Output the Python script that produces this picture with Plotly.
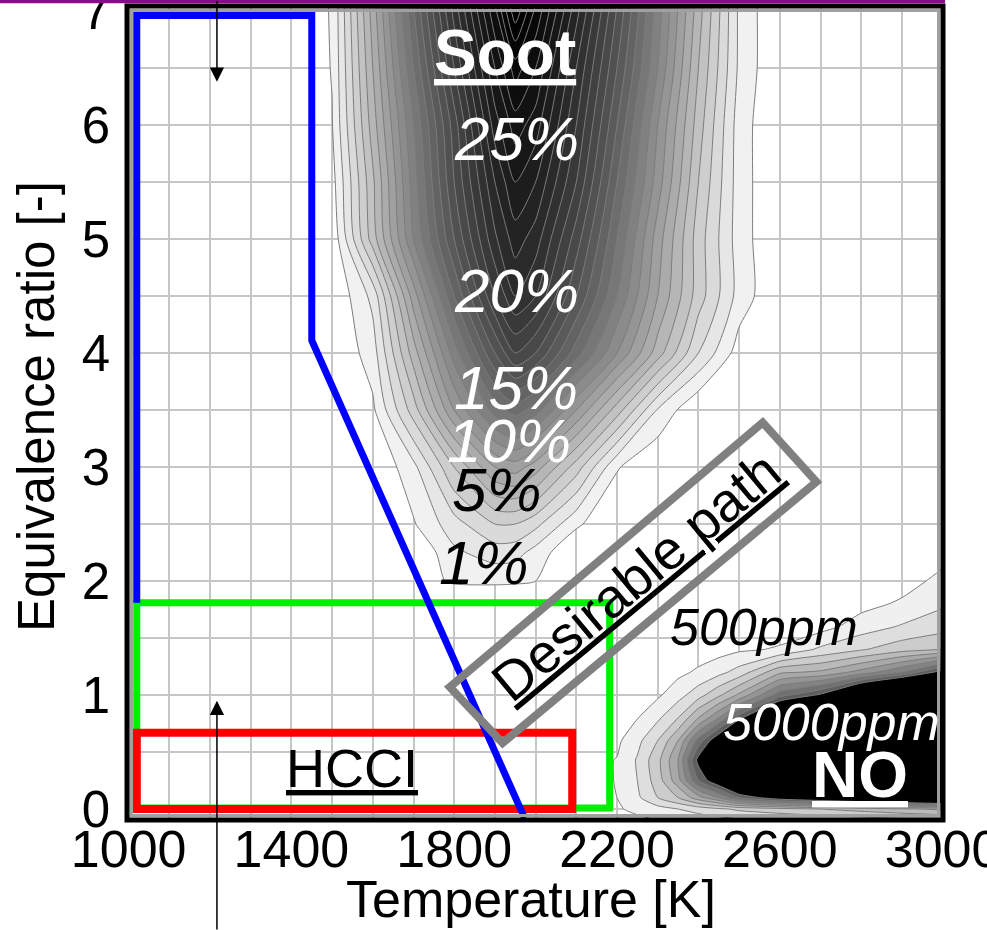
import plotly.graph_objects as go

# ---------------- data ----------------
# Soot yield [%] on a (phi, T) grid
soot_T = [1400, 1500, 1600, 1700, 1800, 1900, 1950, 2000, 2100, 2200, 2300, 2400, 2500, 2600]
soot_phi = [1.8, 2.0, 2.25, 2.5, 3.0, 3.5, 4.0, 4.5, 5.0, 5.5, 6.0, 6.5, 7.05]
soot_pct = [
    [0, 0, 0, 0, 0, 0, 0, 0, 0, 0, 0, 0, 0, 0],
    [0, 0, 0, 0.5, 1.15, 1.2, 1.15, 1.0, 0, 0, 0, 0, 0, 0],
    [0, 0, 0, 0, 1.8, 2.5, 2.4, 1.6, 0, 0, 0, 0, 0, 0],
    [0, 0, 0, 0.9, 2.6, 4.0, 4.0, 3.3, 1.2, 0, 0, 0, 0, 0],
    [0, 0, 0, 1.7, 5.0, 8.0, 8.5, 7.5, 4.5, 1.1, 0, 0, 0, 0],
    [0, 0, 0.8, 4.5, 9.0, 12.5, 13.5, 12.5, 9.0, 5.5, 1.9, 0, 0, 0],
    [0, 0, 1.5, 6.5, 11.5, 16.0, 18.0, 17.0, 13.5, 10.0, 6.5, 3.0, 0.5, 0],
    [0, 0, 2.3, 8.5, 14.0, 19.0, 21.0, 20.0, 16.0, 12.0, 8.0, 4.5, 1.6, 0],
    [0, 0.2, 5.5, 11.0, 16.0, 20.8, 22.5, 21.5, 17.5, 13.0, 8.5, 4.5, 1.5, 0],
    [0, 0.6, 5.8, 11.5, 17.0, 22.0, 24.0, 23.0, 19.0, 14.0, 9.5, 5.0, 1.5, 0],
    [0, 0.95, 6.5, 12.0, 17.5, 23.5, 25.5, 24.5, 20.0, 15.0, 10.0, 5.5, 1.5, 0],
    [0, 1.05, 7.0, 13.0, 19.0, 25.0, 27.5, 26.0, 21.0, 16.0, 11.0, 6.0, 1.8, 0],
    [0, 1.1, 7.5, 14.0, 20.5, 27.0, 31.0, 28.0, 22.5, 17.0, 11.5, 6.5, 1.8, 0],
]

# NO [ppm] on a (phi, T) grid
no_T = [2100, 2200, 2250, 2300, 2350, 2400, 2450, 2500, 2600, 2700, 2800, 2900, 3000]
no_phi = [-0.1, 0.0, 0.1, 0.25, 0.43, 0.6, 0.8, 1.0, 1.2, 1.4, 1.6, 1.8, 2.0, 2.2, 2.4]
no_cols = {
    2100: [150, 200, 250, 280, 280, 220, 150, 100, 60, 40, 30, 30, 30, 30, 30],
    2200: [300, 450, 500, 520, 520, 400, 250, 100, 50, 40, 30, 30, 30, 30, 30],
    2250: [400, 600, 900, 1000, 1050, 850, 480, 250, 100, 50, 30, 30, 30, 30, 30],
    2300: [500, 800, 1500, 1750, 1850, 1500, 900, 420, 200, 80, 50, 30, 30, 30, 30],
    2350: [600, 1000, 2000, 2800, 3000, 2500, 1500, 800, 380, 150, 60, 40, 30, 30, 30],
    2400: [700, 1200, 2800, 4500, 5200, 4200, 2500, 1300, 580, 250, 100, 50, 30, 30, 30],
    2450: [800, 1400, 3500, 5600, 8000, 5600, 3500, 1900, 850, 300, 150, 60, 30, 30, 30],
    2500: [900, 1600, 4500, 7000, 9000, 7500, 4800, 2600, 1200, 420, 200, 80, 30, 30, 30],
    2600: [1000, 1800, 5500, 9000, 10000, 9500, 7000, 4300, 2400, 550, 280, 100, 40, 30, 30],
    2700: [1100, 2000, 6000, 10000, 11000, 10500, 8500, 5100, 2600, 1100, 300, 150, 60, 30, 30],
    2800: [1200, 2200, 6500, 11000, 12000, 11500, 10000, 7000, 3200, 1450, 750, 330, 120, 50, 30],
    2900: [1300, 2400, 7000, 12000, 13000, 12500, 11000, 8500, 4000, 1800, 1050, 580, 280, 110, 40],
    3000: [1400, 2600, 7500, 13000, 14000, 13500, 12000, 9500, 5300, 2000, 1300, 920, 650, 380, 150],
}
no_ppm = [[no_cols[t][i] for t in no_T] for i in range(len(no_phi))]

# Regions (T [K], phi [-])
blue_T = [1020, 1020, 1450, 1450, 1973]
blue_phi = [1.81, 6.96, 6.96, 4.11, -0.08]
green_T = [1020, 2182, 2182, 1020]
green_phi = [1.81, 1.81, 0.01, 0.01]
red_T = [1020, 2090, 2090, 1020]
red_phi = [0.67, 0.67, 0.0, 0.0]
path_T = [1789, 1919, 2690, 2558]
path_phi = [1.07, 0.58, 2.87, 3.39]

# Arrows (tip and tail)
arrow_T = [1217, 1217]
arrow_tip_phi = [6.38, 0.95]
arrow_tail_phi = [7.1, -1.07]

# Labels
soot_levels = ["25%", "20%", "15%", "10%", "5%", "1%"]
soot_level_T = [1954, 1954, 1951, 1934, 1905, 1873]
soot_level_phi = [5.88, 4.55, 3.70, 3.23, 2.80, 2.16]
soot_level_color = ["white", "white", "white", "white", "black", "black"]

x_ticks = [1000, 1400, 1800, 2200, 2600, 3000]
y_ticks = [0, 1, 2, 3, 4, 5, 6, 7]

# ---------------- figure ----------------
FONT = "Liberation Sans, Arial, sans-serif"


def gray(v):
    v = max(0, min(255, int(round(v))))
    return f"rgb({v},{v},{v})"


soot_scale = [[0.0, "rgba(255,255,255,0)"], [0.002, gray(250)]]
for i in range(1, 21):
    s = i / 20
    soot_scale.append([s, gray(255 * (1 - s) ** 1.5)])

no_scale = [[0.0, "rgba(255,255,255,0)"], [0.002, gray(245)], [0.1, gray(240)],
            [0.9, gray(95)], [0.95, gray(40)], [1.0, gray(0)]]

fig = go.Figure()
fig.add_trace(go.Contour(
    x=soot_T, y=soot_phi, z=soot_pct, autocontour=False,
    contours=dict(start=1, end=30, size=1, coloring="fill", showlines=True),
    line=dict(color="#7c7c7c", width=1, smoothing=0.7),
    colorscale=soot_scale, showscale=False, hoverinfo="skip"))
fig.add_trace(go.Contour(
    x=no_T, y=no_phi, z=no_ppm, autocontour=False,
    contours=dict(start=500, end=5000, size=500, coloring="fill", showlines=True),
    line=dict(color="#7c7c7c", width=1, smoothing=0.5),
    colorscale=no_scale, showscale=False, hoverinfo="skip"))


def path_str(xs, ys, close):
    p = "M " + " L ".join(f"{x},{y}" for x, y in zip(xs, ys))
    return p + (" Z" if close else "")


shapes = [
    dict(type="path", xref="x", yref="y", path=path_str(green_T, green_phi, True),
         line=dict(color="#00ee00", width=7)),
    dict(type="path", xref="x", yref="y", path=path_str(red_T, red_phi, True),
         line=dict(color="#ff0000", width=8)),
    dict(type="path", xref="x", yref="y", path=path_str(blue_T, blue_phi, False),
         line=dict(color="#0000ff", width=7)),
    dict(type="path", xref="x", yref="y", path=path_str(path_T, path_phi, True),
         line=dict(color="#808080", width=8)),
    # frame
    dict(type="rect", xref="paper", yref="paper", x0=0.0055, x1=0.9945, y0=0.0055, y1=0.9945,
         line=dict(color="#a0a0a0", width=3)),
    dict(type="rect", xref="paper", yref="paper", x0=0, x1=1, y0=0, y1=1,
         line=dict(color="black", width=5)),
    # purple rule at the top of the page
    dict(type="line", xref="paper", yref="paper", x0=-0.16, x1=1.0025, y0=1.0055, y1=1.0055,
         line=dict(color="#8b0a8b", width=3.5)),
]

ann = []


def label(text, x, y, size, color, angle=0):
    ann.append(dict(text=text, x=x, y=y, xref="x", yref="y", showarrow=False,
                    textangle=angle, xanchor="center", yanchor="middle",
                    font=dict(family=FONT, size=size, color=color)))


label("<b><u>Soot</u></b>", 1924, 6.63, 64, "white")
for t, x, y, c in zip(soot_levels, soot_level_T, soot_level_phi, soot_level_color):
    label(f"<i>{t}</i>", x, y, 62, c)
label("<i>500ppm</i>", 2560, 1.60, 52, "black")
label("<i>5000ppm</i>", 2727, 0.76, 52, "white")
label("<b><u>NO</u></b>", 2796, 0.30, 64, "white")
label("<u>HCCI</u>", 1549, 0.36, 54, "black")
label("<u>Desirable path</u>", 2248, 2.04, 55, "black", angle=-39.7)

for xt, tip, tail in zip(arrow_T, arrow_tip_phi, arrow_tail_phi):
    ann.append(dict(x=xt, y=tip, ax=xt, ay=tail, xref="x", yref="y", axref="x", ayref="y",
                    text="", showarrow=True, arrowhead=2, arrowsize=1.9, arrowwidth=1.5,
                    arrowcolor="black"))

# axis titles
ann.append(dict(text="Temperature [K]", xref="paper", yref="paper", x=0.4945, y=-0.097,
                showarrow=False, xanchor="center", yanchor="middle",
                font=dict(family=FONT, size=52, color="black")))
ann.append(dict(text="Equivalence ratio [-]", xref="paper", yref="paper", x=-0.111, y=0.508,
                showarrow=False, xanchor="center", yanchor="middle", textangle=-90,
                font=dict(family=FONT, size=51, color="black")))

grid = "#c6c6c6"
fig.update_layout(
    width=987, height=930,
    margin=dict(l=127, r=44, t=6, b=110, autoexpand=False),
    paper_bgcolor="white", plot_bgcolor="white",
    showlegend=False,
    shapes=shapes, annotations=ann,
    xaxis=dict(range=[996, 3001], tickmode="array", tickvals=x_ticks,
               ticktext=[str(v) for v in x_ticks], automargin=False,
               showgrid=False, zeroline=False, showline=False, ticks="",
               ticklabelstandoff=-6, ticklabeloverflow="allow",
               tickfont=dict(family=FONT, size=52, color="black"),
               minor=dict(tickmode="linear", tick0=1000, dtick=100, showgrid=True,
                          gridcolor=grid, gridwidth=2, ticks="")),
    yaxis=dict(range=[-0.096, 7.044], tickmode="array", tickvals=y_ticks,
               ticktext=[str(v) for v in y_ticks], automargin=False,
               showgrid=False, zeroline=False, showline=False, ticks="",
               ticklabelstandoff=16, ticklabeloverflow="allow",
               tickfont=dict(family=FONT, size=51, color="black"),
               minor=dict(tickmode="linear", tick0=0, dtick=0.5, showgrid=True,
                          gridcolor=grid, gridwidth=2, ticks="")),
)

fig.write_html("out.html")
